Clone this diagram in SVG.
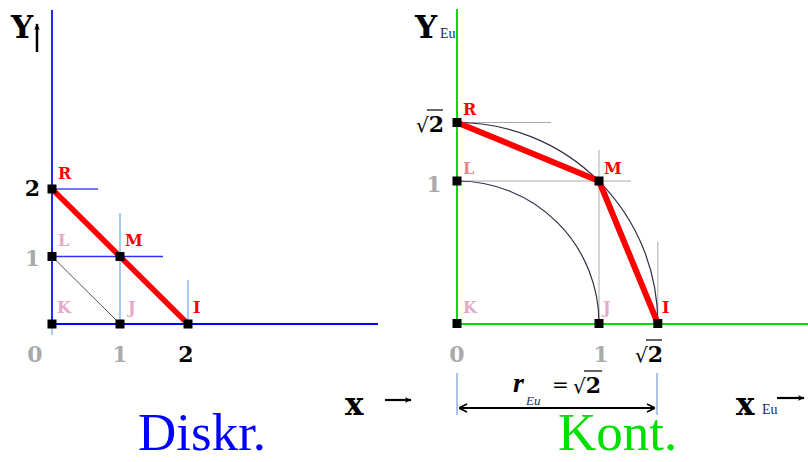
<svg xmlns="http://www.w3.org/2000/svg" width="808" height="462" viewBox="0 0 808 462">
<style>
.pt{fill:#000}
.lbl{font-family:"DejaVu Serif",serif;font-weight:bold;font-size:16px}
.red{fill:#ff0000}
.pink{fill:#e6a8c8}
.pink2{fill:#e08a8a}
.tick{font-family:"DejaVu Serif",serif;font-weight:bold;font-size:22px}
.gray{fill:#aaaaaa}
.blk{fill:#000}
.big{font-family:"Liberation Serif","Times New Roman",serif;font-size:53px}
.ax{font-family:"DejaVu Serif",serif;font-weight:bold;font-size:31px;fill:#000}
.sub{font-family:"Liberation Serif",serif;font-size:14px;fill:#2a2a50}
.thin{stroke:#aaaaaa;stroke-width:1;fill:none}
.lb{stroke:#a8c8f0;stroke-width:2;fill:none}
.arc{stroke:#2e2e48;stroke-width:1.2;fill:none}
</style>
<defs>
<marker id="ah" viewBox="0 0 10 10" refX="9" refY="5" markerWidth="7" markerHeight="7" orient="auto-start-reverse" markerUnits="userSpaceOnUse">
<path d="M0,1 L10,5 L0,9 L3,5 Z" fill="#000"/>
</marker>
<marker id="oa" viewBox="0 0 10 10" refX="10" refY="5" markerWidth="10" markerHeight="10" orient="auto-start-reverse" markerUnits="userSpaceOnUse">
<path d="M2,1 L10,5 L2,9" fill="none" stroke="#000" stroke-width="1.6"/>
</marker>
</defs>
<rect width="808" height="462" fill="#fff"/>

<g id="connectors">
<g id="left-lines">
<line x1="52" y1="10" x2="52" y2="335" class="lb"/>
<line x1="52" y1="10" x2="52" y2="324" stroke="#0000ff" stroke-width="1.6"/>
<line x1="52" y1="324" x2="378" y2="324" stroke="#0000ff" stroke-width="2"/>
<line x1="52" y1="189" x2="98" y2="189" stroke="#4848ff" stroke-width="1.5"/>
<line x1="52" y1="256.5" x2="163" y2="256.5" stroke="#3030ff" stroke-width="1.5"/>
<line x1="120" y1="213" x2="120" y2="324" class="lb"/>
<line x1="188" y1="280" x2="188" y2="324" class="lb"/>
<line x1="52" y1="256.5" x2="120" y2="324" stroke="#555" stroke-width="1"/>
<line x1="52" y1="189" x2="188" y2="324" stroke="#ff0000" stroke-width="5.5" stroke-linecap="round"/>
</g>
<g id="right-lines">
<line x1="457" y1="9" x2="457" y2="324" stroke="#00dd00" stroke-width="2"/>
<line x1="457" y1="324" x2="808" y2="324" stroke="#00dd00" stroke-width="2.2"/>
<line x1="457" y1="122.5" x2="551" y2="122.5" class="thin"/>
<line x1="457" y1="181" x2="631" y2="181" class="thin"/>
<line x1="599" y1="150" x2="599" y2="324" class="thin"/>
<line x1="657.8" y1="242" x2="657.8" y2="324" class="thin"/>
<path d="M457,181 A142,142 0 0 1 599,323.3" class="arc"/>
<path d="M457,122.5 A200.8,200.8 0 0 1 657.8,323.3" class="arc"/>
<polyline points="457,122.5 599,181 657.8,323.3" fill="none" stroke="#ff0000" stroke-width="6" stroke-linejoin="round"/>
</g>
<g id="dimension">
<line x1="457" y1="373" x2="457" y2="415" stroke="#7f9bd8" stroke-width="1.2"/>
<line x1="657" y1="373" x2="657" y2="415" stroke="#7f9bd8" stroke-width="1.2"/>
<line x1="459" y1="408" x2="655" y2="408" stroke="#000" stroke-width="2" marker-start="url(#oa)" marker-end="url(#oa)"/>
</g>
<g id="axis-arrows">
<line x1="37" y1="52" x2="37" y2="24" stroke="#000" stroke-width="2.5" marker-end="url(#ah)"/>
<line x1="385" y1="400" x2="411" y2="400" stroke="#000" stroke-width="2.2" marker-end="url(#ah)"/>
<line x1="777" y1="398" x2="804" y2="398" stroke="#000" stroke-width="2.2" marker-end="url(#ah)"/>
</g>
</g>

<g id="L-K"><rect x="47.5" y="319.5" width="9" height="9" class="pt"/><text x="57" y="313" class="lbl pink">K</text></g>
<g id="L-J"><rect x="115.5" y="319.5" width="9" height="9" class="pt"/><text x="128" y="313" class="lbl pink">J</text></g>
<g id="L-I"><rect x="183.5" y="319.5" width="9" height="9" class="pt"/><text x="193" y="313" class="lbl red">I</text></g>
<g id="L-L"><rect x="47.5" y="252" width="9" height="9" class="pt"/><text x="58" y="246" class="lbl pink">L</text></g>
<g id="L-M"><rect x="115.5" y="252" width="9" height="9" class="pt"/><text x="125" y="246" class="lbl red">M</text></g>
<g id="L-R"><rect x="47.5" y="184.5" width="9" height="9" class="pt"/><text x="58" y="179" class="lbl red">R</text></g>

<text x="32.5" y="196" class="tick blk" text-anchor="middle">2</text>
<text x="32.5" y="266" class="tick gray" text-anchor="middle">1</text>
<text x="35" y="362" class="tick gray" text-anchor="middle">0</text>
<text x="120" y="362" class="tick gray" text-anchor="middle">1</text>
<text x="186" y="362" class="tick blk" text-anchor="middle">2</text>

<text x="11" y="38" class="ax">Y</text>
<text x="345" y="415" class="ax">x</text>
<text x="138" y="450" class="big" fill="#0000ff">Diskr.</text>

<g id="R-K"><rect x="452.5" y="319" width="9" height="9" class="pt"/><text x="463" y="313" class="lbl pink">K</text></g>
<g id="R-J"><rect x="594.5" y="319" width="9" height="9" class="pt"/><text x="603" y="313" class="lbl pink">J</text></g>
<g id="R-I"><rect x="653.3" y="319" width="9" height="9" class="pt"/><text x="662" y="313" class="lbl red">I</text></g>
<g id="R-L"><rect x="452.5" y="176.5" width="9" height="9" class="pt"/><text x="463" y="174" class="lbl pink2">L</text></g>
<g id="R-M"><rect x="594.5" y="176.5" width="9" height="9" class="pt"/><text x="604" y="174" class="lbl red">M</text></g>
<g id="R-R"><rect x="452.5" y="118" width="9" height="9" class="pt"/><text x="463" y="115" class="lbl red">R</text></g>

<text x="416" y="132" class="tick blk"><tspan font-weight="normal" font-size="20">√</tspan>2</text>
<line x1="427" y1="110" x2="443" y2="110" stroke="#000" stroke-width="1.2"/>
<text x="434" y="192" class="tick gray" text-anchor="middle">1</text>
<text x="457" y="362" class="tick gray" text-anchor="middle">0</text>
<text x="601" y="362" class="tick gray" text-anchor="middle">1</text>
<text x="635" y="362" class="tick blk"><tspan font-weight="normal" font-size="20">√</tspan>2</text>
<line x1="646" y1="340" x2="662" y2="340" stroke="#000" stroke-width="1.2"/>

<text x="415" y="38" class="ax">Y</text>
<text x="440" y="38" class="sub">Eu</text>
<text x="736" y="415" class="ax">x</text>
<text x="762" y="414" class="sub">Eu</text>

<g id="r-label">
<text x="513" y="392" font-family="Liberation Serif,serif" font-style="italic" font-weight="bold" font-size="28" fill="#000">r</text>
<text x="526" y="405" font-family="Liberation Serif,serif" font-style="italic" font-size="13" fill="#2a2a60">Eu</text>
<text x="552" y="391" font-family="DejaVu Sans,sans-serif" font-size="20" fill="#000">=</text>
<text x="573" y="393" class="tick blk"><tspan font-weight="normal" font-size="20">√</tspan>2</text>
<line x1="584" y1="371" x2="602" y2="371" stroke="#000" stroke-width="1.2"/>
</g>

<text x="558" y="450" class="big" fill="#00e000">Kont.</text>
</svg>
